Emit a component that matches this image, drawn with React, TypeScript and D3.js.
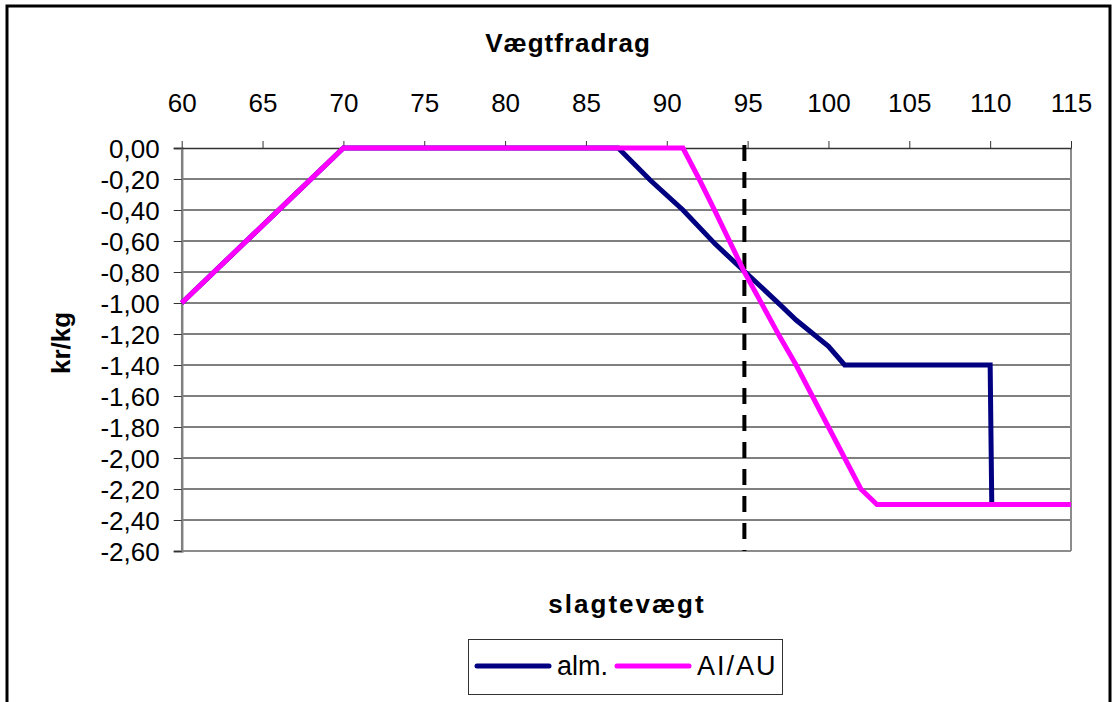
import React, {useEffect, useRef} from 'react';
import * as d3 from 'd3';

// slaughter weight (kg) and weight deduction (kr/kg)
const almWeight = [60, 70, 87, 89, 91, 93, 97, 98, 100, 101, 110, 110.1, 115];
const almDeduction = [-1.0, 0, 0, -0.21, -0.4, -0.62, -1.01, -1.11, -1.28, -1.4, -1.4, -2.3, -2.3];

const aiWeight = [60, 70, 91, 92, 93, 94.8, 97, 98, 101, 102, 103, 115];
const aiDeduction = [-1.0, 0, 0, -0.2, -0.41, -0.8, -1.22, -1.4, -2.0, -2.2, -2.3, -2.3];

const xTicks = [60, 65, 70, 75, 80, 85, 90, 95, 100, 105, 110, 115];
const yTicks = [0, -0.2, -0.4, -0.6, -0.8, -1.0, -1.2, -1.4, -1.6, -1.8, -2.0, -2.2, -2.4, -2.6];

const markerWeight = 94.8;

const seriesNames = ['alm.', 'AI/AU'];
const seriesColors = ['#000080', '#ff00ff'];

const FONT = '"Liberation Sans", Arial, sans-serif';

export default function App() {
    const svgRef = useRef<SVGSVGElement>(null);

    useEffect(() => {
        const svg = d3.select(svgRef.current);
        svg.selectAll('*').remove();

        const x = d3.scaleLinear().domain([60, 115]).range([181.7, 1071]);
        const y = d3.scaleLinear().domain([-2.6, 0]).range([551, 148]);

        // outer frame
        svg.append('rect')
            .attr('x', 7).attr('y', 6)
            .attr('width', 1103).attr('height', 720)
            .attr('fill', 'white')
            .attr('stroke', '#000')
            .attr('stroke-width', 3);

        const g = svg.append('g');

        // horizontal grid
        g.selectAll('line.grid')
            .data(yTicks.slice(1, -1))
            .enter().append('line')
            .attr('x1', x(60)).attr('x2', x(115))
            .attr('y1', d => y(d)).attr('y2', d => y(d))
            .attr('stroke', '#000')
            .attr('stroke-width', 1);

        // plot borders right / bottom
        g.append('line')
            .attr('x1', x(115)).attr('x2', x(115))
            .attr('y1', y(0)).attr('y2', y(-2.6))
            .attr('stroke', '#8c8c8c').attr('stroke-width', 2);
        g.append('line')
            .attr('x1', x(60)).attr('x2', x(115))
            .attr('y1', y(-2.6)).attr('y2', y(-2.6))
            .attr('stroke', '#8c8c8c').attr('stroke-width', 2);

        // y axis
        const yAxis = d3.axisLeft(y)
            .tickValues(yTicks)
            .tickSize(8)
            .tickPadding(14)
            .tickFormat(d => d3.format('.2f')(+d).replace('.', ',').replace('−', '-'));
        const ya = g.append('g')
            .attr('transform', 'translate(' + x(60) + ',0)')
            .call(yAxis);
        ya.select('.domain').attr('stroke', '#808080').attr('stroke-width', 2.5);
        ya.selectAll('.tick line').attr('stroke', '#333');
        ya.selectAll('.tick text')
            .attr('font-family', FONT)
            .attr('font-size', 26)
            .attr('fill', '#000')
            .attr('dy', '0.36em');

        // x axis on top
        const xAxis = d3.axisTop(x)
            .tickValues(xTicks)
            .tickSize(7)
            .tickSizeOuter(0)
            .tickPadding(29)
            .tickFormat(d3.format('d'));
        const xa = g.append('g')
            .attr('transform', 'translate(0,' + y(0) + ')')
            .call(xAxis);
        xa.select('.domain').attr('stroke', '#333').attr('stroke-width', 1.5);
        xa.selectAll('.tick line').attr('stroke', '#333');
        xa.selectAll('.tick text')
            .attr('font-family', FONT)
            .attr('font-size', 26)
            .attr('fill', '#000');

        // dashed marker line
        g.append('line')
            .attr('x1', x(markerWeight)).attr('x2', x(markerWeight))
            .attr('y1', y(0) - 3).attr('y2', y(-2.6))
            .attr('stroke', '#000')
            .attr('stroke-width', 4)
            .attr('stroke-dasharray', '16 11');

        const line = d3.line<[number, number]>()
            .x(d => x(d[0]))
            .y(d => y(d[1]));

        const series = [
            d3.zip(almWeight, almDeduction) as [number, number][],
            d3.zip(aiWeight, aiDeduction) as [number, number][],
        ];

        series.forEach((data, i) => {
            g.append('path')
                .datum(data)
                .attr('fill', 'none')
                .attr('stroke', seriesColors[i])
                .attr('stroke-width', 5)
                .attr('stroke-linejoin', 'miter')
                .attr('d', line);
        });

        // titles
        svg.append('text')
            .attr('x', 568).attr('y', 52)
            .attr('text-anchor', 'middle')
            .attr('font-family', FONT)
            .attr('font-size', 26)
            .attr('font-weight', 'bold')
            .attr('letter-spacing', 1)
            .text('Vægtfradrag');

        svg.append('text')
            .attr('x', 627).attr('y', 613)
            .attr('text-anchor', 'middle')
            .attr('font-family', FONT)
            .attr('font-size', 26)
            .attr('font-weight', 'bold')
            .attr('letter-spacing', 2)
            .text('slagtevægt');

        svg.append('text')
            .attr('transform', 'translate(70,343) rotate(-90)')
            .attr('text-anchor', 'middle')
            .attr('font-family', FONT)
            .attr('font-size', 26)
            .attr('font-weight', 'bold')
            .text('kr/kg');

        // legend
        const legend = svg.append('g');
        legend.append('rect')
            .attr('x', 468.5).attr('y', 639.5)
            .attr('width', 314).attr('height', 55)
            .attr('fill', 'white')
            .attr('stroke', '#333')
            .attr('stroke-width', 1);

        const legendX = [477, 617];
        seriesNames.forEach((name, i) => {
            legend.append('line')
                .attr('x1', legendX[i]).attr('x2', legendX[i] + 72)
                .attr('y1', 666).attr('y2', 666)
                .attr('stroke', seriesColors[i])
                .attr('stroke-width', 5)
                .attr('stroke-linecap', 'round');
            legend.append('text')
                .attr('x', legendX[i] + 80).attr('y', 675)
                .attr('font-family', FONT)
                .attr('font-size', 27)
                .attr('letter-spacing', i === 1 ? 2 : 0)
                .text(name);
        });
    }, []);

    return <svg ref={svgRef}
                width={1117}
                height={702}
                style={{position: 'absolute', left: 0, top: 0, background: 'white'}}>
    </svg>;
}
